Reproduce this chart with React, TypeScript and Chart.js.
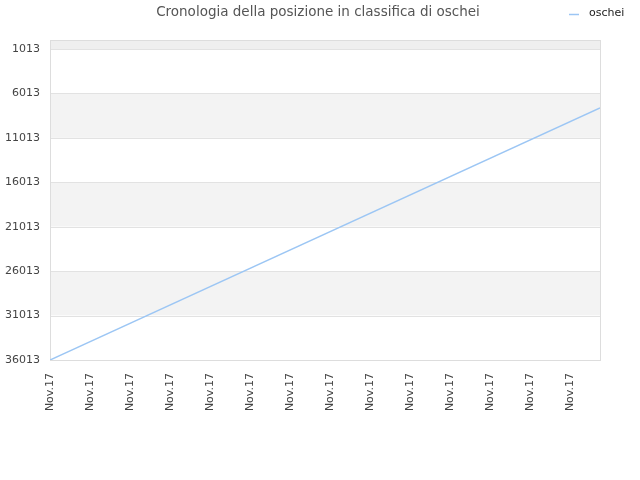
import React, { useEffect, useRef } from "react";
import { Chart, registerables } from "chart.js";

Chart.register(...registerables);

const titleText = "Cronologia della posizione in classifica di oschei";
const seriesName = "oschei";
const xPositions = [0, 13.75];
const rankValues = [36013, 7650];
const yTickValues = [1013, 6013, 11013, 16013, 21013, 26013, 31013, 36013];
const xTickPositions = [0, 1, 2, 3, 4, 5, 6, 7, 8, 9, 10, 11, 12, 13];
const xTickLabel = "Nov.17";

const FONT = "'DejaVu Sans', Verdana, sans-serif";
const LINE_COLOR = "#9cc6f4";

const decorPlugin = {
  id: "decor",
  beforeDatasetsDraw(chart: any) {
    const { ctx, chartArea } = chart;
    const y = chart.scales.y;
    ctx.save();
    const bounds = [y.min, ...yTickValues];
    for (let i = 0; i < bounds.length - 1; i++) {
      const p1 = y.getPixelForValue(bounds[i]);
      const p2 = y.getPixelForValue(bounds[i + 1]);
      let color = i % 2 === 0 ? "#f3f3f3" : "#ffffff";
      if (i === 0) color = "#efefef";
      ctx.fillStyle = color;
      ctx.fillRect(chartArea.left, Math.min(p1, p2), chartArea.right - chartArea.left, Math.abs(p2 - p1));
    }
    ctx.strokeStyle = "#e2e2e2";
    ctx.lineWidth = 1;
    for (const v of yTickValues) {
      const p = Math.round(y.getPixelForValue(v)) + 0.5;
      ctx.beginPath();
      ctx.moveTo(chartArea.left, p);
      ctx.lineTo(chartArea.right, p);
      ctx.stroke();
    }
    ctx.strokeStyle = "#dddddd";
    ctx.strokeRect(
      Math.round(chartArea.left) + 0.5,
      Math.round(chartArea.top) + 0.5,
      Math.round(chartArea.right - chartArea.left),
      Math.round(chartArea.bottom - chartArea.top)
    );
    ctx.restore();
  },
  afterDraw(chart: any) {
    const { ctx } = chart;
    ctx.save();
    ctx.fillStyle = "#555555";
    ctx.font = `13.5px ${FONT}`;
    ctx.textAlign = "center";
    ctx.textBaseline = "middle";
    ctx.fillText(titleText, 318, 12);
    ctx.strokeStyle = LINE_COLOR;
    ctx.lineWidth = 1.5;
    ctx.beginPath();
    ctx.moveTo(569, 14.5);
    ctx.lineTo(579, 14.5);
    ctx.stroke();
    ctx.fillStyle = "#222222";
    ctx.font = `11px ${FONT}`;
    ctx.textAlign = "left";
    ctx.fillText(seriesName, 589, 13);
    ctx.restore();
  },
};

export default function App() {
  const ref = useRef<HTMLCanvasElement | null>(null);
  useEffect(() => {
    if (!ref.current) return;
    const chart = new Chart(ref.current, {
      type: "line",
      data: {
        datasets: [
          {
            label: seriesName,
            data: xPositions.map((x, i) => ({ x, y: rankValues[i] })),
            borderColor: LINE_COLOR,
            borderWidth: 1.5,
            pointRadius: 0,
            fill: false,
            tension: 0,
          },
        ],
      },
      options: {
        animation: false,
        responsive: true,
        maintainAspectRatio: false,
        layout: { padding: { top: 40, right: 40, left: 0, bottom: 0 } },
        plugins: {
          legend: { display: false },
          title: { display: false },
          tooltip: { enabled: false },
        },
        scales: {
          x: {
            type: "linear",
            min: 0,
            max: 13.75,
            afterBuildTicks: (s: any) => {
              s.ticks = xTickPositions.map((v) => ({ value: v }));
            },
            afterFit: (s: any) => {
              s.height = 120;
            },
            grid: { display: false, drawTicks: false },
            border: { display: false },
            ticks: {
              autoSkip: false,
              maxRotation: 90,
              minRotation: 90,
              padding: 13,
              color: "#444444",
              font: { family: FONT, size: 11 },
              callback: () => xTickLabel,
            },
          },
          y: {
            type: "linear",
            reverse: true,
            min: 0,
            max: 36013,
            afterBuildTicks: (s: any) => {
              s.ticks = yTickValues.map((v) => ({ value: v }));
            },
            afterFit: (s: any) => {
              s.width = 50;
            },
            grid: { display: false, drawTicks: false },
            border: { display: false },
            ticks: {
              autoSkip: false,
              padding: 10,
              color: "#444444",
              font: { family: FONT, size: 11 },
              callback: (v: any) => String(v),
            },
          },
        },
      },
      plugins: [decorPlugin],
    });
    return () => chart.destroy();
  }, []);
  return (
    <div style={{ position: "absolute", left: 0, top: 0, width: 640, height: 480, background: "#fff" }}>
      <canvas ref={ref} />
    </div>
  );
}
